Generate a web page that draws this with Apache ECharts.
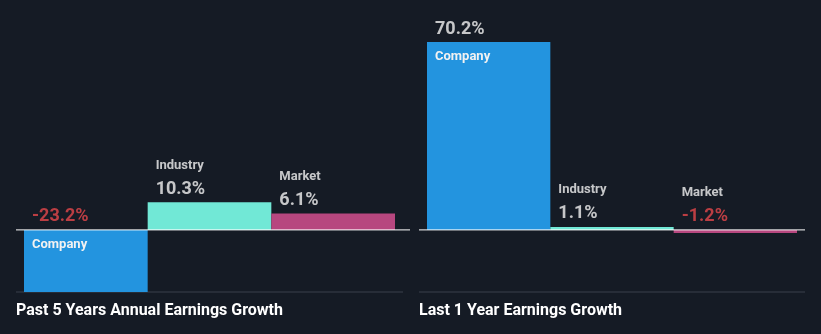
<!DOCTYPE html>
<html><head><meta charset="utf-8">
<script src="https://cdn.jsdelivr.net/npm/echarts@6/dist/echarts.min.js"></script>
<style>html,body{margin:0;padding:0;background:#151b25;}#c{width:821px;height:334px;}</style>
</head><body><div id="c"></div>
<script>
const categories = ['Company', 'Industry', 'Market'];
const fiveYearGrowth = [-23.2, 10.3, 6.1];
const oneYearGrowth = [70.2, 1.1, -1.2];
const panelTitles = ['Past 5 Years Annual Earnings Growth', 'Last 1 Year Earnings Growth'];

const barColors = ['#2394df', '#71e8d6', '#b7477f'];
const yMin = Math.min(...fiveYearGrowth, ...oneYearGrowth);
const yMax = Math.max(...fiveYearGrowth, ...oneYearGrowth);
const panels = [fiveYearGrowth, oneYearGrowth];
const grids = [
  {left: 24, top: 42, width: 371, height: 250},
  {left: 427, top: 42, width: 370, height: 250}
];
const fmt = v => v.toFixed(1) + '%';
const rich = {
  n: {fontFamily: 'Roboto', fontSize: 13, fontWeight: 'bold', color: '#f2f2f2', lineHeight: 24},
  v: {fontFamily: 'Roboto', fontSize: 18, fontWeight: 'bold', color: '#f2f2f2', lineHeight: 24},
  r: {fontFamily: 'Roboto', fontSize: 18, fontWeight: 'bold', color: '#e5474b', lineHeight: 24}
};

const chart = echarts.init(document.getElementById('c'), null, {renderer: 'canvas'});
const series = [];
panels.forEach((vals, p) => {
  const half = grids[p].width / categories.length / 2;
  series.push({
    type: 'bar', xAxisIndex: p, yAxisIndex: p, barCategoryGap: '0%', silent: true,
    data: vals.map((v, i) => ({
      value: v,
      itemStyle: {color: barColors[i]},
      label: categories[i] === 'Company' ? {
        show: true, position: [8, 15], align: 'left', verticalAlign: 'middle',
        formatter: categories[i], fontFamily: 'Roboto', fontSize: 13, fontWeight: 'bold', color: '#f2f2f2'
      } : {show: false}
    }))
  });
  series.push({
    type: 'scatter', xAxisIndex: p, yAxisIndex: p, symbolSize: 0, silent: true, z: 5,
    data: vals.map((v, i) => ({
      value: [i, Math.max(v, 0)],
      label: {
        show: true, position: [-half + 8, -1], align: 'left', verticalAlign: 'bottom',
        formatter: (categories[i] === 'Company' ? '' : '{n|' + categories[i] + '}\n') +
          (v < 0 ? '{r|' + fmt(v) + '}' : '{v|' + fmt(v) + '}'),
        rich: rich
      }
    }))
  });
});

const titleStyle = {fontFamily: 'Roboto', fontSize: 16, fontWeight: 'bold', color: '#ffffff'};
chart.setOption({
  backgroundColor: '#151b25',
  animation: false,
  grid: grids,
  xAxis: grids.map((g, i) => ({type: 'category', gridIndex: i, data: categories, show: false})),
  yAxis: grids.map((g, i) => ({type: 'value', gridIndex: i, min: yMin, max: yMax, show: false})),
  title: [
    {text: panelTitles[0], left: 16, top: 303, padding: 0, textStyle: titleStyle},
    {text: panelTitles[1], left: 419, top: 303, padding: 0, textStyle: titleStyle}
  ],
  series: series
});

const zeroY = chart.convertToPixel({gridIndex: 0}, [0, 0])[1];
const baseY = chart.convertToPixel({gridIndex: 0}, [0, yMin])[1];
chart.setOption({
  graphic: [
    {type: 'line', shape: {x1: 16, y1: baseY, x2: 403, y2: baseY}, style: {stroke: '#3b414d', lineWidth: 1}, silent: true},
    {type: 'line', shape: {x1: 419, y1: baseY, x2: 805, y2: baseY}, style: {stroke: '#3b414d', lineWidth: 1}, silent: true},
    {type: 'line', z: 10, shape: {x1: 16, y1: zeroY, x2: 410, y2: zeroY}, style: {stroke: '#ffffff', lineWidth: 1}, silent: true},
    {type: 'line', z: 10, shape: {x1: 419, y1: zeroY, x2: 805, y2: zeroY}, style: {stroke: '#ffffff', lineWidth: 1}, silent: true}
  ]
});
</script></body></html>
